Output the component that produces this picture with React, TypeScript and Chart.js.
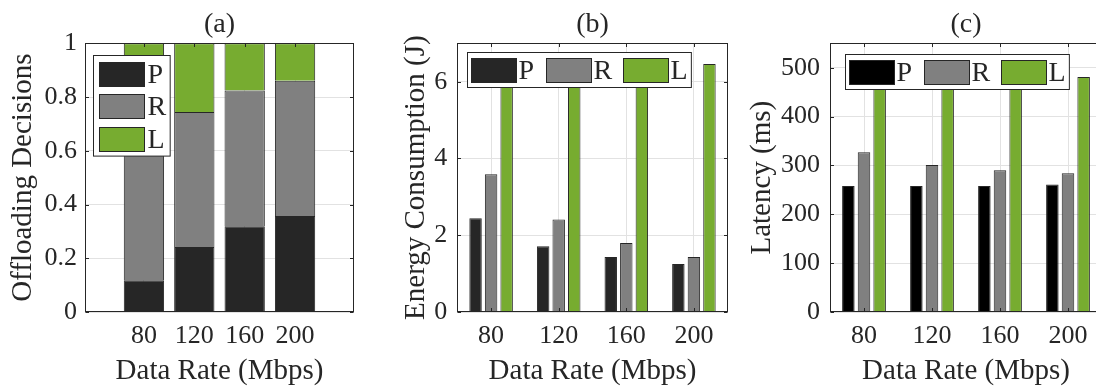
import React, { useEffect, useRef } from 'react';
import { Chart, registerables } from 'chart.js';

Chart.register(...registerables);

// ---------- data ----------
const categories = [80, 120, 160, 200];
const seriesNames = ['P', 'R', 'L'];

// (a) Offloading decisions (stacked fractions)
const decisionP = [0.118, 0.242, 0.319, 0.357];
const decisionR = [0.5, 0.502, 0.505, 0.504];
const decisionL = [0.382, 0.256, 0.176, 0.139];
const decisionTicks = [0, 0.2, 0.4, 0.6, 0.8, 1];

// (b) Energy consumption (J)
const energyP = [2.44, 1.71, 1.43, 1.25];
const energyR = [3.59, 2.41, 1.8, 1.43];
const energyL = [6.47, 6.46, 6.46, 6.46];
const energyTicks = [0, 2, 4, 6];

// (c) Latency (ms)
const latencyP = [258, 258, 258, 261];
const latencyR = [327, 301, 290, 284];
const latencyL = [481, 481, 481, 481];
const latencyTicks = [0, 100, 200, 300, 400, 500];

// ---------- styles ----------
const FONT = "'Liberation Serif', 'Times New Roman', serif";
const TEXT = '#262626';
const GRID = '#e2e2e2';
const EDGE = '#262626';
const COLOR_P = '#262626';
const COLOR_P_C = '#000000';
const COLOR_R = '#808080';
const COLOR_L = '#77AC30';

const framePlugin = {
  id: 'frame',
  afterDatasetsDraw(chart: any) {
    const { ctx, chartArea } = chart;
    const left = Math.round(chartArea.left) + 0.5;
    const right = Math.round(chartArea.right) - 0.5;
    const top = Math.round(chartArea.top) + 0.5;
    const bottom = Math.round(chartArea.bottom) - 0.5;
    ctx.save();
    ctx.strokeStyle = EDGE;
    ctx.lineWidth = 1;
    ctx.strokeRect(left, top, right - left, bottom - top);
    const tl = 3.5;
    const line = (x1: number, y1: number, x2: number, y2: number) => {
      ctx.beginPath();
      ctx.moveTo(x1, y1);
      ctx.lineTo(x2, y2);
      ctx.stroke();
    };
    const xs = chart.scales.x;
    const ys = chart.scales.y;
    ys.ticks.forEach((t: any) => {
      const py = Math.round(ys.getPixelForValue(t.value)) + 0.5;
      line(left, py, left + tl, py);
      line(right, py, right - tl, py);
    });
    xs.ticks.forEach((_t: any, i: number) => {
      const px = Math.round(xs.getPixelForTick(i)) + 0.5;
      line(px, bottom, px, bottom - tl);
      line(px, top, px, top + tl);
    });
    ctx.restore();
  },
};

const boxLegendPlugin = {
  id: 'boxLegend',
  afterDraw(chart: any, _args: any, opts: any) {
    if (!opts || !opts.show) return;
    const { ctx, chartArea } = chart;
    const sw = 45;
    const sh = 24;
    const x0 = Math.round(chartArea.left + opts.dx) + 0.5;
    const y0 = Math.round(chartArea.top + opts.dy) + 0.5;
    ctx.save();
    ctx.font = `${opts.fontSize}px ${FONT}`;
    ctx.textBaseline = 'middle';
    ctx.textAlign = 'left';
    const items = chart.data.datasets.map((ds: any) => ({
      label: ds.label,
      fill: ds.backgroundColor,
      w: ctx.measureText(ds.label).width,
    }));
    let boxW: number;
    let boxH: number;
    const pos: { x: number; y: number }[] = [];
    if (opts.vertical) {
      const padL = 5, padT = 6, gap = 8.8, tgap = 3, padR = 5, padB = 5;
      const maxW = Math.max(...items.map((it: any) => it.w));
      boxW = padL + sw + tgap + maxW + padR;
      boxH = padT + items.length * sh + (items.length - 1) * gap + padB;
      items.forEach((_it: any, i: number) => pos.push({ x: x0 + padL, y: y0 + padT + i * (sh + gap) }));
    } else {
      const padL = 3.5, padT = 5.5, tgap = 2, igap = 12, padR = 4, padB = 5.5;
      let cx = x0 + padL;
      items.forEach((it: any) => {
        pos.push({ x: cx, y: y0 + padT });
        cx += sw + tgap + it.w + igap;
      });
      boxW = cx - igap + padR - x0;
      boxH = padT + sh + padB;
    }
    ctx.fillStyle = '#ffffff';
    ctx.fillRect(x0, y0, boxW, boxH);
    ctx.strokeStyle = EDGE;
    ctx.lineWidth = 1;
    ctx.strokeRect(x0, y0, boxW, boxH);
    items.forEach((it: any, i: number) => {
      const p = pos[i];
      const sx = Math.round(p.x) + 0.5;
      const sy = Math.round(p.y) + 0.5;
      ctx.fillStyle = it.fill;
      ctx.fillRect(sx, sy, sw, sh);
      ctx.strokeStyle = EDGE;
      ctx.strokeRect(sx, sy, sw, sh);
      ctx.fillStyle = TEXT;
      ctx.fillText(it.label, sx + sw + (opts.vertical ? 3 : 2), sy + sh / 2 + 1);
    });
    ctx.restore();
  },
};

type PanelCfg = {
  title: string;
  yTitle: string;
  yMax: number;
  yTicks: number[];
  yWidth: number;
  yTitlePad: number;
  yTickPad: number;
  padRight: number;
  legend: { vertical: boolean; dx: number; dy: number };
};

const tickFont = { family: FONT, size: 26 };
const titleFont = { family: FONT, size: 29 };

function baseOptions(cfg: PanelCfg, xScale: any) {
  return {
    responsive: false,
    animation: false,
    layout: { padding: { left: 0, right: cfg.padRight, top: 0, bottom: 0 } },
    scales: {
      x: {
        ...xScale,
        afterFit: (s: any) => {
          s.height = 77;
        },
        ticks: { font: tickFont, color: TEXT, padding: 9, maxRotation: 0, autoSkip: false },
        grid: { color: GRID, drawTicks: false, offset: false },
        border: { display: false },
        title: {
          display: true,
          text: 'Data Rate (Mbps)',
          font: titleFont,
          color: TEXT,
          padding: { top: 0, bottom: 0 },
        },
      },
      y: {
        min: 0,
        max: cfg.yMax,
        stacked: xScale.type === 'linear',
        afterBuildTicks: (s: any) => {
          s.ticks = cfg.yTicks.map((v) => ({ value: v }));
        },
        afterFit: (s: any) => {
          s.width = cfg.yWidth;
        },
        ticks: {
          font: tickFont,
          color: TEXT,
          padding: cfg.yTickPad,
          callback: (v: any) => String(v),
        },
        grid: { color: GRID, drawTicks: false },
        border: { display: false },
        title: {
          display: true,
          text: cfg.yTitle,
          font: titleFont,
          color: TEXT,
          padding: { top: cfg.yTitlePad, bottom: 0 },
        },
      },
    },
    plugins: {
      legend: { display: false },
      tooltip: { enabled: false },
      title: {
        display: true,
        text: cfg.title,
        fullSize: false,
        font: { family: FONT, size: 28, weight: 'normal' },
        color: TEXT,
        padding: { top: 8, bottom: 1.7 },
      },
      boxLegend: { show: true, fontSize: 28, ...cfg.legend },
    },
  };
}

function makeStacked(canvas: HTMLCanvasElement) {
  const cfg: PanelCfg = {
    title: '(a)',
    yTitle: 'Offloading Decisions',
    yMax: 1,
    yTicks: decisionTicks,
    yWidth: 85,
    yTitlePad: 6,
    yTickPad: 8,
    padRight: 1,
    legend: { vertical: true, dx: 8.3, dy: 11.7 },
  };
  const series = [decisionP, decisionR, decisionL];
  const colors = [COLOR_P, COLOR_R, COLOR_L];
  return new Chart(canvas, {
    type: 'bar',
    data: {
      datasets: series.map((vals, k) => ({
        label: seriesNames[k],
        data: categories.map((c, i) => ({ x: c, y: vals[i] })),
        backgroundColor: colors[k],
        borderColor: EDGE,
        borderWidth: 1,
        stack: 'all',
        categoryPercentage: 0.8,
        barPercentage: 1,
      })),
    },
    options: baseOptions(cfg, {
      type: 'linear',
      min: 33.2,
      max: 246.8,
      offset: false,
      afterBuildTicks: (s: any) => {
        s.ticks = categories.map((v) => ({ value: v }));
      },
    }) as any,
    plugins: [framePlugin, boxLegendPlugin],
  });
}

function makeGrouped(canvas: HTMLCanvasElement, cfg: PanelCfg, series: number[][], colors: string[]) {
  return new Chart(canvas, {
    type: 'bar',
    data: {
      labels: categories.map(String),
      datasets: series.map((vals, k) => ({
        label: seriesNames[k],
        data: vals,
        backgroundColor: colors[k],
        borderColor: EDGE,
        borderWidth: 1,
        categoryPercentage: 0.69,
        barPercentage: 0.8,
      })),
    },
    options: baseOptions(cfg, { type: 'category', offset: true }) as any,
    plugins: [framePlugin, boxLegendPlugin],
  });
}

export default function App() {
  const aRef = useRef<HTMLCanvasElement>(null);
  const bRef = useRef<HTMLCanvasElement>(null);
  const cRef = useRef<HTMLCanvasElement>(null);

  useEffect(() => {
    const charts: Chart[] = [];
    if (aRef.current) charts.push(makeStacked(aRef.current));
    if (bRef.current)
      charts.push(
        makeGrouped(
          bRef.current,
          {
            title: '(b)',
            yTitle: 'Energy Consumption (J)',
            yMax: 7,
            yTicks: energyTicks,
            yWidth: 87.3,
            yTitlePad: 28.6,
            yTickPad: 10,
            padRight: 2.3,
            legend: { vertical: false, dx: 9.4, dy: 8.4 },
          },
          [energyP, energyR, energyL],
          [COLOR_P, COLOR_R, COLOR_L]
        )
      );
    if (cRef.current)
      charts.push(
        makeGrouped(
          cRef.current,
          {
            title: '(c)',
            yTitle: 'Latency (ms)',
            yMax: 550,
            yTicks: latencyTicks,
            yWidth: 100,
            yTitlePad: 14.6,
            yTickPad: 10,
            padRight: 8,
            legend: { vertical: false, dx: 15, dy: 10.7 },
          },
          [latencyP, latencyR, latencyL],
          [COLOR_P_C, COLOR_R, COLOR_L]
        )
      );
    return () => charts.forEach((c) => c.destroy());
  }, []);

  return (
    <div
      style={{
        position: 'fixed',
        left: 0,
        top: 0,
        width: 1096,
        height: 389,
        overflow: 'hidden',
        background: '#ffffff',
      }}
    >
      <canvas ref={aRef} width={355} height={389} style={{ position: 'absolute', left: 0, top: 0 }} />
      <canvas ref={bRef} width={360} height={389} style={{ position: 'absolute', left: 370, top: 0 }} />
      <canvas ref={cRef} width={380} height={389} style={{ position: 'absolute', left: 730, top: 0 }} />
    </div>
  );
}
